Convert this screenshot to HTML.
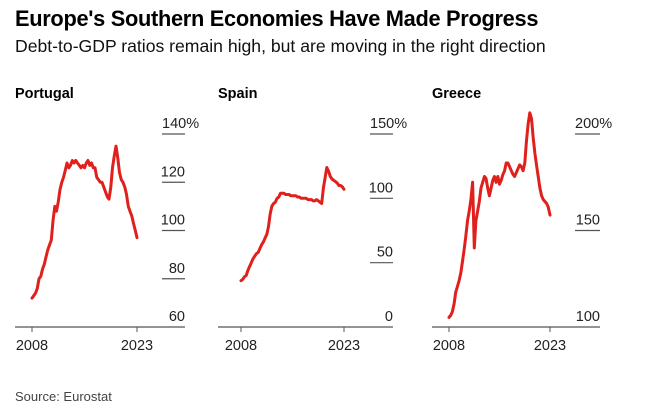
<!DOCTYPE html>
<html><head><meta charset="utf-8">
<style>
body{margin:0;background:#fff;width:672px;height:413px;overflow:hidden;font-family:"Liberation Sans",Arial,sans-serif;}
#title{position:absolute;left:15px;top:6px;font-size:21.8px;font-weight:bold;color:#000;letter-spacing:-0.3px;white-space:nowrap;}
#sub{position:absolute;left:15px;top:36px;font-size:17.6px;color:#111;white-space:nowrap;}
#src{position:absolute;left:15px;top:389px;font-size:13px;color:#444;}
svg{position:absolute;left:0;top:0;}
</style></head><body>
<div id="title">Europe's Southern Economies Have Made Progress</div>
<div id="sub">Debt-to-GDP ratios remain high, but are moving in the right direction</div>
<div id="src">Source: Eurostat</div>
<svg id="chart" width="672" height="413"></svg>
<script>
const xTickLabels = ["2008","2023"];
const portugalValues = [72,73,74,76, 80,81,84,86, 89,92,94,96, 104,110,108,112, 117,120,122,125, 128,126,127,129, 128,129,128,127, 126,127,126,128, 129,127,128,126, 126,122,121,120, 120,118,116,114, 113,118,126,131, 135,130,124,121, 120,118,115,110, 108,106,103,100, 97];
const spainValues = [36,37,39,40, 44,47,50,53, 55,57,58,61, 64,66,69,72, 78,88,94,96, 97,100,101,104, 104,104,103,103, 103,102,102,102, 102,101,101,100, 100,100,100,99, 99,99,98,98, 99,98,97,96, 108,116,124,121, 117,115,114,113, 112,110,110,109, 107];
const greeceValues = [105,106,108,112, 118,121,124,128, 134,140,147,155, 160,166,175,141, 155,160,165,172, 175,178,177,172, 168,172,176,178, 175,178,174,176, 179,181,185,185, 183,181,179,178, 180,182,184,183, 181,185,196,205, 211,208,198,190, 184,178,172,168, 166,165,164,162, 158];
const portugalTicks = [60,80,100,120,140];
const spainTicks = [0,50,100,150];
const greeceTicks = [100,150,200];

const NS="http://www.w3.org/2000/svg";
const svg=document.getElementById('chart');
function mk(tag,attrs){const e=document.createElementNS(NS,tag);for(const k in attrs)e.setAttribute(k,attrs[k]);svg.appendChild(e);return e;}

const panels=[
 {name:"portugal",label:"Portugal",vals:portugalValues,ticks:portugalTicks,ax0:15,ax1:185,x08:32,x23:137,tk0:162},
 {name:"spain",label:"Spain",vals:spainValues,ticks:spainTicks,ax0:218,ax1:393,x08:241,x23:344,tk0:370},
 {name:"greece",label:"Greece",vals:greeceValues,ticks:greeceTicks,ax0:432,ax1:600,x08:449,x23:550,tk0:575}
];
const yTop=134,yBot=327;
panels.forEach(p=>{
  const lo=p.ticks[0],hi=p.ticks[p.ticks.length-1];
  const y=v=>yBot-(v-lo)/(hi-lo)*(yBot-yTop);
  const n=p.vals.length;
  const x=i=>p.x08+i/(n-1)*(p.x23-p.x08);
  let t=mk('text',{x:p.ax0,y:98,'font-size':14.5,'font-weight':'bold',fill:'#000'});t.textContent=p.label;
  
  
  p.ticks.forEach((v,i)=>{
    if(i>0){
      const l=mk('line',{x1:p.tk0,x2:p.ax1,y1:y(v),y2:y(v),stroke:'#555','stroke-width':1.2});
      
      
    }
    const lab=mk('text',{x:p.ax1,y:y(v)-6,'font-size':14.5,fill:'#222','text-anchor':'end'});
    lab.textContent=v+(i===p.ticks.length-1?'%':'');
    if(i===p.ticks.length-1){lab.setAttribute('text-anchor','start');lab.setAttribute('x',p.tk0);}
    
    
  });
  const ax=mk('line',{x1:p.ax0,x2:p.ax1,y1:yBot,y2:yBot,stroke:'#555','stroke-width':1.2});
  
  
  [p.x08,p.x23].forEach((xx,i)=>{
    const tk=mk('line',{x1:xx,x2:xx,y1:yBot,y2:yBot+5,stroke:'#555','stroke-width':1});
    
    
    const tl=mk('text',{x:xx,y:yBot+23,'font-size':14.5,fill:'#222','text-anchor':'middle'});
    tl.textContent=xTickLabels[i];
    
    
  });
  const d=p.vals.map((v,i)=>(i?'L':'M')+x(i).toFixed(1)+','+y(v).toFixed(1)).join('');
  const path=mk('path',{d:d,fill:'none',stroke:'#e0201c','stroke-width':3,'stroke-linejoin':'round','stroke-linecap':'round'});
  
  
});
</script>
</body></html>
